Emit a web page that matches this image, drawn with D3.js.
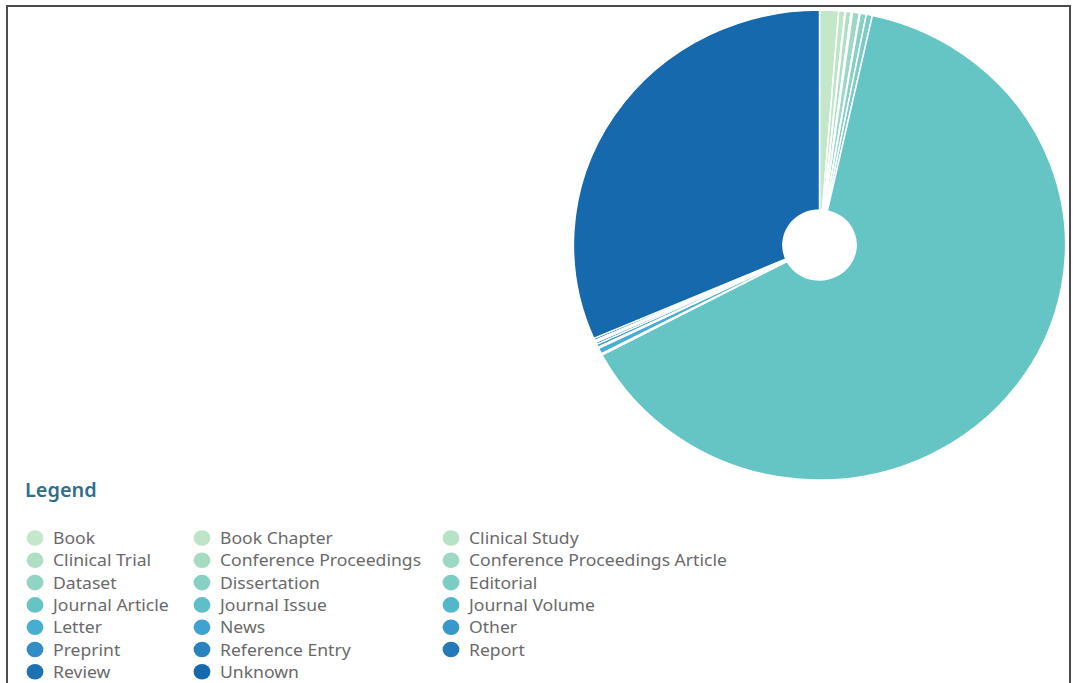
<!DOCTYPE html>
<html>
<head>
<meta charset="utf-8">
<script src="https://cdn.jsdelivr.net/npm/d3@7"></script>
<style>
  html, body { margin: 0; padding: 0; background: #fff; }
  svg { display: block; }
</style>
</head>
<body>
<svg id="chart" width="1073" height="683"></svg>
<script>
// Publication types, in legend / slice order
const categories = [
  "Book", "Book Chapter", "Clinical Study", "Clinical Trial",
  "Conference Proceedings", "Conference Proceedings Article", "Dataset",
  "Dissertation", "Editorial", "Journal Article", "Journal Issue",
  "Journal Volume", "Letter", "News", "Other", "Preprint",
  "Reference Entry", "Report", "Review", "Unknown"
];

// Record counts per publication type
const counts = [
  125, 40, 5, 35, 10, 45, 5, 40, 40, 6380, 5,
  5, 40, 10, 20, 15, 5, 10, 15, 3150
];

// Green-to-blue palette, one swatch per type
const palette = [
  "#c4e7c9", "#bde5c6", "#b6e2c5", "#aedfc3", "#a5dbc3", "#9cd8c3",
  "#92d4c3", "#87d0c4", "#7bccc5", "#64c5c4", "#5ebfc9", "#53b7cc",
  "#48aecf", "#40a3cf", "#3898cb", "#318dc5", "#2a83bf", "#237ab8",
  "#1d71b1", "#1569ac"
];

const legendColumns = 3;

const data = categories.map((name, i) => ({ name, value: counts[i] }));

const svg = d3.select("#chart");

const color = d3.scaleOrdinal().domain(categories).range(palette);

// Slight horizontal stretch applied to the whole panel's drawing
const sx = 1.047;

// Frame around the panel
svg.append("rect")
  .attr("x", 7).attr("y", 6)
  .attr("width", 1063).attr("height", 700)
  .attr("fill", "none")
  .attr("stroke", "#4a4a4a")
  .attr("stroke-width", 2);

// Donut
const outerR = 235, innerR = 35;
const pie = d3.pie().value(d => d.value).sort(null);
const arc = d3.arc().innerRadius(innerR).outerRadius(outerR);

const g = svg.append("g")
  .attr("transform", `translate(819.5,245) scale(${sx},1)`);

g.selectAll("path")
  .data(pie(data))
  .join("path")
  .attr("d", arc)
  .attr("fill", d => color(d.data.name))
  .attr("stroke", "#fff")
  .attr("stroke-width", 1.4);

// Legend
const legend = svg.append("g").attr("font-family", "'Noto Sans', 'Open Sans', sans-serif");

legend.append("text")
  .attr("transform", `translate(25,497) scale(${sx},1)`)
  .attr("font-size", 19)
  .attr("font-weight", 600)
  .attr("fill", "#2e6f8b")
  .text("Legend");

const colX = [35, 202, 451];
const rowY0 = 538, rowStep = 22.3;

const items = legend.selectAll("g.item")
  .data(categories)
  .join("g")
  .attr("class", "item")
  .attr("transform", (d, i) =>
    `translate(${colX[i % legendColumns]},${rowY0 + Math.floor(i / legendColumns) * rowStep})`);

items.append("ellipse")
  .attr("rx", 8.4).attr("ry", 7.8)
  .attr("fill", d => color(d));

items.append("text")
  .attr("transform", `translate(18,6) scale(${sx},1)`)
  .attr("font-size", 16.8)
  .attr("fill", "#6a6a6a")
  .text(d => d);
</script>
</body>
</html>
